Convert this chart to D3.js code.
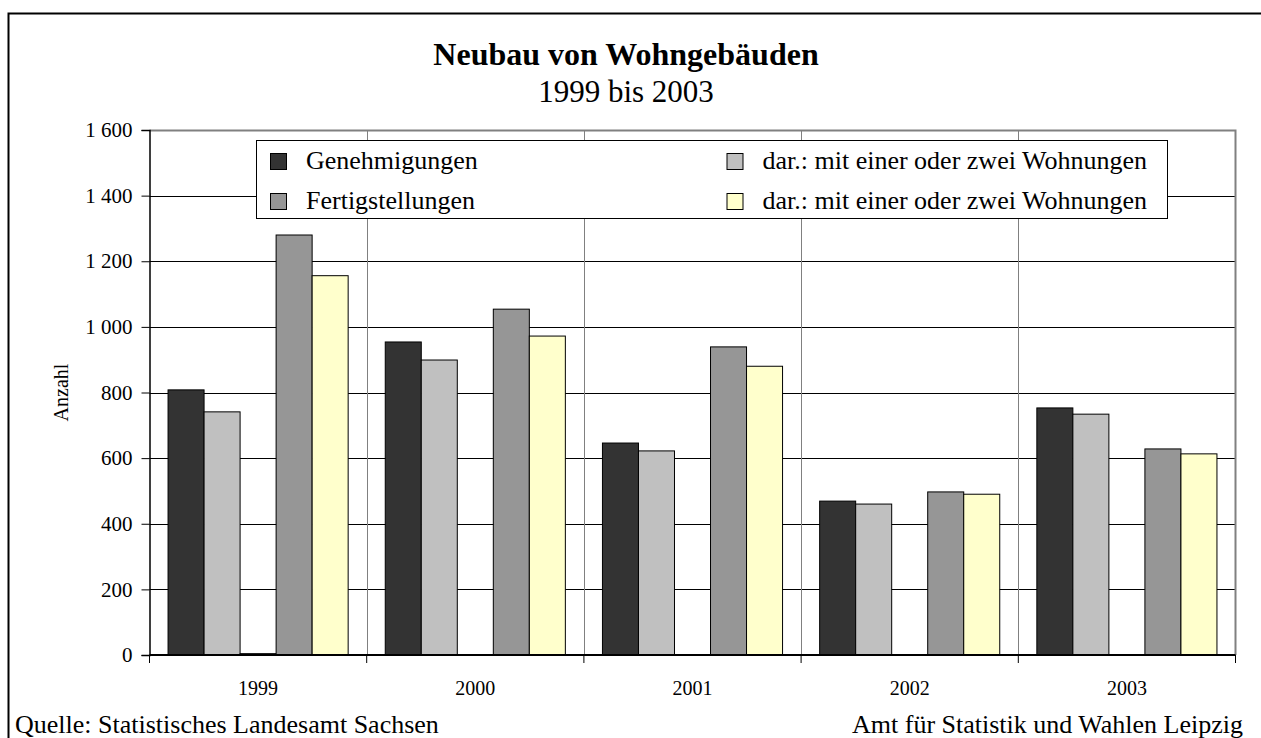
<!DOCTYPE html>
<html>
<head>
<meta charset="utf-8">
<script src="https://cdn.jsdelivr.net/npm/d3@7"></script>
<style>
  html, body { margin: 0; padding: 0; background: #fff; }
  svg { display: block; font-family: "Liberation Serif", "Times New Roman", serif; }
</style>
</head>
<body>
<div id="app"></div>
<script>
// data
var years = ['1999', '2000', '2001', '2002', '2003'];
var seriesNames = ['Genehmigungen', 'dar.: mit einer oder zwei Wohnungen', 'leer', 'Fertigstellungen', 'dar.: mit einer oder zwei Wohnungen '];
var seriesColors = ['#333333', '#c0c0c0', '#000000', '#969696', '#ffffcc'];
var genehmigungen = [808, 954, 646, 469, 753];
var genehmigungenEinZwei = [741, 899, 622, 460, 734];
var leer = [4, 0, 0, 0, 0];
var fertigstellungen = [1280, 1054, 939, 497, 628];
var fertigstellungenEinZwei = [1156, 972, 880, 490, 613];
var yTicks = [0, 200, 400, 600, 800, 1000, 1200, 1400, 1600];
// legend: [series, column, row] (hidden series left out)
var legendItems = [[0, 0, 0], [3, 0, 1], [1, 1, 0], [4, 1, 1]];

var values = [genehmigungen, genehmigungenEinZwei, leer, fertigstellungen, fertigstellungenEinZwei];

var W = 1261, H = 738;
var plot = { left: 149.5, right: 1235.5, top: 130, bottom: 655 };

var svg = d3.select('#app').append('svg')
  .attr('width', W)
  .attr('height', H);

// outer frame
svg.append('rect')
  .attr('x', 8.5).attr('y', 13.5)
  .attr('width', 1300).attr('height', 800)
  .attr('fill', 'none')
  .attr('stroke', '#000')
  .attr('stroke-width', 2);

var x0 = d3.scaleBand()
  .domain(years)
  .range([plot.left, plot.right]);

var x1 = d3.scaleBand()
  .domain(d3.range(seriesNames.length))
  .range([0, x0.bandwidth()])
  .paddingInner(0)
  .paddingOuter(0.515);

var y = d3.scaleLinear()
  .domain([0, 1600])
  .range([plot.bottom, plot.top]);

var fmt = d3.formatLocale({ decimal: ',', thousands: ' ', grouping: [3], currency: ['', ''] }).format(',d');

// horizontal grid
svg.append('g')
  .selectAll('line')
  .data(yTicks.slice(1, -1))
  .join('line')
  .attr('x1', plot.left).attr('x2', plot.right)
  .attr('y1', d => Math.round(y(d)) + 0.5)
  .attr('y2', d => Math.round(y(d)) + 0.5)
  .attr('stroke', '#000')
  .attr('stroke-width', 1);

// vertical grid between categories
svg.append('g')
  .selectAll('line')
  .data(years.slice(1))
  .join('line')
  .attr('x1', d => Math.round(x0(d)) + 0.5)
  .attr('x2', d => Math.round(x0(d)) + 0.5)
  .attr('y1', plot.top).attr('y2', plot.bottom)
  .attr('stroke', '#808080')
  .attr('stroke-width', 1);

// plot frame top and right
svg.append('path')
  .attr('d', 'M' + plot.left + ',' + (plot.top + 0.5) + 'H' + plot.right + 'V' + plot.bottom)
  .attr('fill', 'none')
  .attr('stroke', '#808080')
  .attr('stroke-width', 2);

// bars
var barData = [];
years.forEach(function(yr, i) {
  values.forEach(function(arr, s) {
    if (arr[i] > 0) barData.push({ year: yr, s: s, v: arr[i] });
  });
});

svg.append('g')
  .selectAll('rect')
  .data(barData)
  .join('rect')
  .attr('x', d => x0(d.year) + x1(d.s))
  .attr('width', x1.bandwidth())
  .attr('y', d => y(d.v))
  .attr('height', d => y(0) - y(d.v))
  .attr('fill', d => seriesColors[d.s])
  .attr('stroke', '#000')
  .attr('stroke-width', 1);

// y axis
var yAxis = svg.append('g')
  .attr('transform', 'translate(' + plot.left + ',0)')
  .call(d3.axisLeft(y).tickValues(yTicks).tickFormat(fmt).tickSizeOuter(0).tickSize(8).tickPadding(9));
yAxis.select('.domain').attr('stroke', '#000').attr('stroke-width', 1.5);
yAxis.selectAll('.tick line').attr('stroke', '#000');
yAxis.selectAll('text')
  .attr('font-family', '"Liberation Serif", serif')
  .attr('font-size', 21)
  .attr('fill', '#000');

// x axis
var xAxis = svg.append('g')
  .attr('transform', 'translate(0,' + plot.bottom + ')')
  .call(d3.axisBottom(x0).tickSize(0).tickPadding(0));
xAxis.select('.domain').remove();
xAxis.append('line')
  .attr('x1', plot.left).attr('x2', plot.right)
  .attr('stroke', '#000').attr('stroke-width', 2);
xAxis.selectAll('.tick text')
  .attr('y', 40)
  .attr('dy', 0)
  .attr('font-family', '"Liberation Serif", serif')
  .attr('font-size', 20)
  .attr('fill', '#000');
xAxis.selectAll('line.cat')
  .data(years.concat(['end']))
  .join('line')
  .attr('class', 'cat')
  .attr('x1', d => d === 'end' ? plot.right : x0(d))
  .attr('x2', d => d === 'end' ? plot.right : x0(d))
  .attr('y1', 0).attr('y2', 8)
  .attr('stroke', '#000');

// axis title
svg.append('text')
  .attr('transform', 'translate(68,' + ((plot.top + plot.bottom) / 2) + ') rotate(-90)')
  .attr('text-anchor', 'middle')
  .attr('font-size', 20)
  .text('Anzahl');

// titles
svg.append('text')
  .attr('x', 626).attr('y', 65)
  .attr('text-anchor', 'middle')
  .attr('font-size', 32)
  .attr('font-weight', 'bold')
  .text('Neubau von Wohngebäuden');

svg.append('text')
  .attr('x', 626).attr('y', 102)
  .attr('text-anchor', 'middle')
  .attr('font-size', 31)
  .text('1999 bis 2003');

// legend
var legend = svg.append('g');
legend.append('rect')
  .attr('x', 256.5).attr('y', 140.5)
  .attr('width', 911).attr('height', 78)
  .attr('fill', '#fff')
  .attr('stroke', '#000')
  .attr('stroke-width', 1);

var colX = [270, 726.5];
var rowY = [153, 193];

var li = legend.selectAll('g.item')
  .data(legendItems)
  .join('g')
  .attr('class', 'item')
  .attr('transform', d => 'translate(' + colX[d[1]] + ',' + rowY[d[2]] + ')');

li.append('rect')
  .attr('x', 0.5).attr('y', 0.5)
  .attr('width', 16).attr('height', 16)
  .attr('fill', d => seriesColors[d[0]])
  .attr('stroke', '#000');

li.append('text')
  .attr('x', 36).attr('y', 16)
  .attr('font-size', 26)
  .text(d => seriesNames[d[0]].trim());

// footer
svg.append('text')
  .attr('x', 15).attr('y', 733)
  .attr('font-size', 26)
  .text('Quelle: Statistisches Landesamt Sachsen');

svg.append('text')
  .attr('x', 1243).attr('y', 733)
  .attr('text-anchor', 'end')
  .attr('font-size', 26)
  .text('Amt für Statistik und Wahlen Leipzig');
</script>
</body>
</html>
